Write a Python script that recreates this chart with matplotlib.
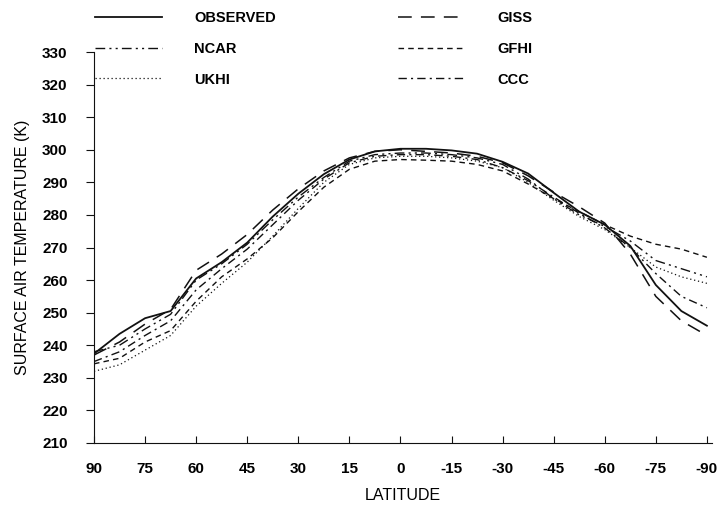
import matplotlib
matplotlib.use('Agg')
import numpy as np
from matplotlib import pyplot as plt

# latitude grid (deg), north -> south
lat = [90, 82.5, 75, 67.5, 60, 52.5, 45, 37.5, 30, 22.5, 15, 7.5, 0,
       -7.5, -15, -22.5, -30, -37.5, -45, -52.5, -60, -67.5, -75, -82.5, -90]

# zonal mean surface air temperature (K)
observed = [237.4, 243.5, 248.3, 250.5, 260.5, 265.5, 271.5, 279.5, 286.5, 292.5, 297.0, 299.5, 300.3,
            300.3, 299.8, 298.8, 296.3, 292.7, 286.8, 281.0, 277.0, 270.5, 258.5, 250.5, 246.0]
giss = [237.0, 241.0, 246.5, 251.0, 263.0, 268.0, 274.0, 281.5, 288.0, 293.5, 297.5, 299.5, 300.0,
        299.5, 299.0, 298.0, 296.0, 292.0, 287.0, 282.5, 277.5, 268.0, 255.0, 247.5, 243.0]
ncar = [238.0, 240.0, 245.0, 249.5, 260.0, 265.0, 271.0, 278.5, 285.5, 291.5, 296.5, 298.5, 299.0,
        299.0, 298.5, 297.5, 295.5, 291.0, 285.0, 280.0, 276.5, 272.0, 266.0, 263.5, 261.0]
gfhi = [234.3, 236.0, 241.0, 244.5, 253.5, 261.0, 266.5, 273.0, 281.0, 288.5, 294.0, 296.5, 297.0,
        296.8, 296.5, 295.5, 293.5, 289.5, 285.0, 281.0, 277.0, 273.5, 271.0, 269.5, 267.0]
ukhi = [232.0, 234.0, 238.5, 243.0, 252.0, 259.0, 265.5, 273.5, 282.0, 290.0, 295.5, 297.5, 298.0,
        298.0, 297.5, 296.5, 294.5, 290.0, 284.5, 279.5, 275.5, 270.0, 264.0, 261.0, 259.0]
ccc = [235.0, 238.0, 243.0, 247.5, 257.0, 263.5, 269.5, 277.0, 284.5, 291.0, 296.0, 298.0, 298.5,
       298.5, 298.0, 297.0, 294.5, 290.5, 285.5, 280.5, 276.0, 270.0, 262.0, 255.0, 251.5]

xticks = [90, 75, 60, 45, 30, 15, 0, -15, -30, -45, -60, -75, -90]
xticklabels = ['90', '75', '60', '45', '30', '15', '0', '-15', '-30', '-45', '-60', '-75', '-90']
yticks = list(range(210, 331, 10))

plt.rcParams['font.family'] = ['Liberation Sans', 'DejaVu Sans']

fig = plt.figure(figsize=(7.21, 5.05), dpi=100)
ax = fig.add_axes([94/721, 1 - 443/505, (712-94)/721, (443-52)/505])

k = '#111111'
l_obs, = ax.plot(lat, observed, color=k, lw=1.3, ls='-')
l_giss, = ax.plot(lat, giss, color=k, lw=1.1, ls=(0, (9, 6)))
l_ncar, = ax.plot(lat, ncar, color=k, lw=1.0, ls=(0, (7, 3, 1.5, 3, 1.5, 3)))
l_gfhi, = ax.plot(lat, gfhi, color=k, lw=1.0, ls=(0, (4, 3)))
l_ukhi, = ax.plot(lat, ukhi, color=k, lw=0.9, ls=(0, (1, 2.2)))
l_ccc, = ax.plot(lat, ccc, color=k, lw=1.0, ls=(0, (6, 3, 1.5, 3)))

ax.set_xlim(90, -91.5)
ax.set_ylim(210, 330)
ax.set_xticks(xticks)
ax.set_xticklabels(xticklabels, fontweight='bold', fontsize=11)
ax.set_yticks(yticks)
ax.set_yticklabels([str(v) for v in yticks], fontweight='bold', fontsize=11)
ax.tick_params(axis='x', direction='in', length=5, pad=14, color=k)
ax.tick_params(axis='y', direction='out', length=6, pad=13, color=k)
ax.spines['top'].set_visible(False)
ax.spines['right'].set_visible(False)
ax.spines['left'].set_color(k)
ax.spines['bottom'].set_color(k)

ax.set_xlabel('LATITUDE', fontsize=11.5, labelpad=8)
ax.set_ylabel('SURFACE AIR TEMPERATURE (K)', fontsize=11.5, labelpad=9)

leg_kw = dict(frameon=False, ncol=1, prop={'weight': 'bold', 'size': 10.5},
              handlelength=4.6, handletextpad=2.2, labelspacing=1.15,
              borderpad=0, borderaxespad=0, loc='upper left')
fig.legend([l_obs, l_ncar, l_ukhi], ['OBSERVED', 'NCAR', 'UKHI'],
           bbox_to_anchor=(95/721, 1 - 11/505), **leg_kw)
fig.legend([l_giss, l_gfhi, l_ccc], ['GISS', 'GFHI', 'CCC'],
           bbox_to_anchor=(398/721, 1 - 11/505), **leg_kw)

fig.savefig('out.png', dpi=100)
